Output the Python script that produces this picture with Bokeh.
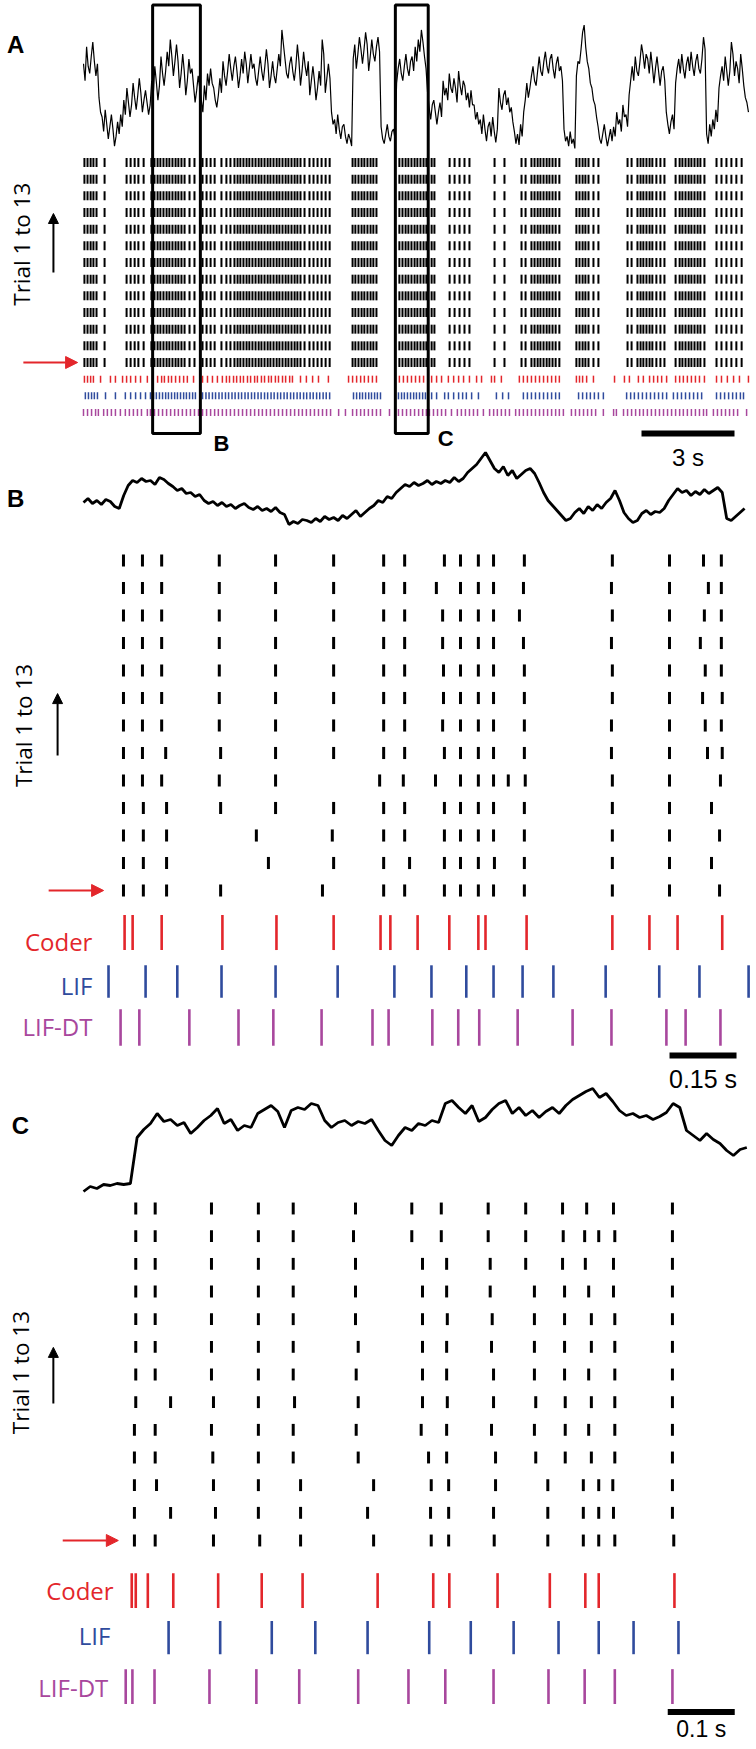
import math
from bokeh.plotting import figure
from bokeh.models import Range1d, Arrow, NormalHead
from bokeh.core.properties import value
from bokeh.embed import file_html
from bokeh.resources import INLINE

# ---------------- DATA ----------------
# Panel A: noisy stimulus trace sampled every 0.05 s (arbitrary units)
a_trace_dt = 0.05
a_trace = [70, 56, 84, 68, 62, 76, 88, 72, 60, 70,
           42, 30,
           26, 14, 32, 20, 8, 18, 28, 16, 2, 10, 22, 12,
           28, 18,
           40, 28, 50, 38, 26, 36, 54, 42, 32, 44, 58, 46, 30, 40, 48, 38, 28, 36,
           56, 44, 68, 55, 40, 52, 76, 62, 52, 64, 80, 68, 90, 76, 60, 72, 86, 72, 50, 62,
           78, 64, 44, 56, 74, 62, 66, 52, 38, 48, 60, 50,
           40, 30, 52, 40, 62, 52,
           66, 54, 50, 40, 34, 44, 58, 46, 72, 60, 52, 64, 78, 66, 56, 68, 76, 64, 50, 60,
           74, 62, 80, 70, 54, 66, 78, 66, 70, 58, 52, 64, 76, 64, 56, 68, 82, 70, 50, 60,
           72, 60, 54, 66, 78, 68, 98, 86, 74, 62, 58, 70, 76, 64, 56, 68, 86, 72, 52, 64,
           80, 68, 60, 72, 44, 56, 68, 56, 40, 50, 64, 52, 90, 78, 46, 58, 70, 58,
           30, 20, 24, 12, 28, 16, 8, 18, 20, 10, 4, 12, 8, 2,
           74, 86, 66, 78, 92, 82, 70, 82, 96, 86, 64, 76, 90, 78, 72, 84, 92, 80,
           18, 8, 4, 12, 20, 10, 6, 14, 16, 8,
           54, 66, 74, 62, 56, 68, 78, 66, 60, 72, 76, 64, 84, 72, 90, 80, 98, 88, 76, 66,
           46, 34, 24, 36, 40, 30, 20, 30, 38, 26,
           56, 44, 50, 40, 62, 50, 46, 58, 50, 38, 64, 52, 44, 56, 52, 40, 46, 34, 48, 36,
           36, 24, 30, 20, 24, 12, 28, 16, 6, 18, 22, 10, 26, 14, 5, 16,
           50, 38, 32, 44, 48, 36, 42, 30, 34, 22,
           14, 4, 12, 3, 20, 10,
           30, 40, 54, 42, 50, 60, 68, 56, 52, 64, 76, 64, 60, 72, 80, 68, 62, 74, 78, 66,
           58, 70, 76, 64, 68, 56,
           16, 6, 10, 2, 14, 4, 8, 0,
           60, 72, 70, 82, 96, 102, 84, 72, 66, 54, 50, 40, 36, 26,
           18, 8, 4, 12, 20, 10, 2, 9, 16, 6, 18, 10,
           30, 20, 24, 14, 36, 26, 28, 18,
           44, 56, 68, 56, 76, 64, 60, 72, 86, 78, 66, 78, 74, 62, 80, 68, 54, 66, 76, 64,
           52, 64, 68, 56,
           30, 20, 12, 22, 28, 16,
           54, 66, 74, 62, 78, 66, 58, 70, 76, 64, 80, 68, 60, 72, 78, 66, 62, 74, 92, 82,
           12, 4, 20, 10, 24, 16, 32, 22,
           50, 60, 68, 56, 76, 64, 52, 64, 88, 78, 60, 72, 66, 54, 78, 66, 52, 42, 38, 30]

# Panel A spike times (s): recorded trials (same pattern each trial), Coder, LIF, LIF-DT
a_trial_spikes = [0.03, 0.13, 0.23, 0.32, 0.42, 0.68, 1.39, 1.52, 1.65, 1.77, 1.94,
    2.19, 2.29, 2.39, 2.48, 2.58, 2.68, 2.77, 2.87, 2.97, 3.06, 3.16, 3.26, 3.42, 3.58,
    3.84, 3.97, 4.10, 4.23,
    4.45, 4.61, 4.74, 4.87, 4.97, 5.06, 5.16, 5.26, 5.35, 5.45, 5.55, 5.65, 5.74, 5.84, 5.94, 6.03, 6.13,
    6.23, 6.32, 6.42, 6.52, 6.61, 6.71, 6.81, 6.90, 7.00, 7.13,
    7.29, 7.42, 7.55, 7.68, 7.81, 7.94,
    8.68, 8.77, 8.87, 8.97, 9.06, 9.16, 9.26, 9.35, 9.45,
    10.19, 10.29, 10.39, 10.48, 10.58, 10.68, 10.77, 10.87, 10.97, 11.06,
    11.23, 11.32, 11.81, 11.97, 12.13, 12.29, 12.45, 13.26, 13.58,
    14.13, 14.26, 14.45, 14.55, 14.65, 14.74, 14.84, 14.94, 15.03, 15.13, 15.23, 15.35,
    15.90, 16.00, 16.10, 16.19, 16.29, 16.45, 16.61,
    17.55, 17.68, 17.87, 17.97, 18.06, 18.16, 18.26, 18.35, 18.48, 18.61, 18.74,
    19.10, 19.23, 19.32, 19.42, 19.52, 19.61, 19.71, 19.81, 19.90, 20.03,
    20.42, 20.58, 20.74, 20.90, 21.06, 21.23]
a_coder = [0.03, 0.13, 0.23, 0.32, 0.55, 0.87, 1.03, 1.26, 1.39, 1.52, 1.68, 1.84, 2.06, 2.23,
    2.39, 2.52, 2.61, 2.74, 2.84, 2.97, 3.10, 3.23, 3.35, 3.55, 3.84, 4.00, 4.16, 4.32,
    4.48, 4.61, 4.71, 4.84, 4.94, 5.06, 5.16, 5.29, 5.39, 5.52, 5.61, 5.74, 5.84, 5.97,
    6.06, 6.19, 6.29, 6.42, 6.52, 6.65, 6.74, 7.00, 7.19, 7.39, 7.58, 7.90,
    8.55, 8.68, 8.81, 8.94, 9.06, 9.19, 9.32, 9.45,
    10.19, 10.32, 10.45, 10.58, 10.71, 10.84, 10.97,
    11.23, 11.39, 11.55, 11.77, 11.94, 12.10, 12.26, 12.45, 12.68, 12.84, 13.16, 13.26, 13.48,
    14.06, 14.19, 14.32, 14.45, 14.58, 14.71, 14.84, 14.97, 15.10, 15.23, 15.35,
    15.90, 16.00, 16.10, 16.23, 16.45, 17.13,
    17.45, 17.61, 17.90, 18.06, 18.26, 18.39, 18.52, 18.65, 18.81,
    19.10, 19.23, 19.35, 19.48, 19.61, 19.74, 19.87, 20.03,
    20.42, 20.58, 20.77, 20.97, 21.16, 21.45]
a_lif = [0.06, 0.16, 0.26, 0.35, 0.45, 0.71, 1.03, 1.35, 1.52, 1.68, 1.84, 2.00,
    2.16, 2.26, 2.35, 2.45, 2.55, 2.65, 2.74, 2.84, 2.94, 3.03, 3.13, 3.23, 3.32, 3.42, 3.52, 3.61,
    3.84, 3.95, 4.05, 4.16, 4.26, 4.37, 4.47, 4.58, 4.68, 4.79, 4.89, 5.00, 5.10, 5.21, 5.31,
    5.42, 5.52, 5.63, 5.73, 5.84, 5.94, 6.05, 6.15, 6.26, 6.36, 6.47, 6.57, 6.68, 6.78, 6.89,
    6.99, 7.10, 7.20, 7.31, 7.41, 7.52, 7.62, 7.73, 7.83, 7.94,
    8.71, 8.81, 8.91, 9.00, 9.10, 9.20, 9.29, 9.39, 9.48, 9.58,
    10.16, 10.26, 10.35, 10.45, 10.55, 10.65, 10.74, 10.84, 10.94, 11.03,
    11.23, 11.39, 11.65, 11.77, 11.94, 12.10, 12.23, 12.35, 12.52, 12.74,
    13.32, 13.52, 13.71,
    14.19, 14.32, 14.45, 14.58, 14.71, 14.84, 14.97, 15.10, 15.23, 15.35,
    15.97, 16.10, 16.23, 16.35, 16.48, 16.61, 16.77,
    17.52, 17.65, 17.77, 17.90, 18.03, 18.16, 18.29, 18.42, 18.55, 18.68, 18.81,
    19.03, 19.16, 19.29, 19.42, 19.55, 19.68, 19.81, 19.94,
    20.42, 20.55, 20.68, 20.81, 20.94, 21.06, 21.19, 21.29]
a_lifdt = [0.00, 0.13, 0.26, 0.39, 0.48, 0.65, 0.77, 0.90, 1.03, 1.19, 1.35, 1.48, 1.61, 1.74, 1.87, 2.06,
    2.16, 2.29, 2.42, 2.55, 2.68, 2.81, 2.94, 3.06, 3.19, 3.32, 3.45, 3.58, 3.71, 3.84, 3.97,
    4.10, 4.23, 4.35, 4.48, 4.61, 4.74, 4.87, 5.00, 5.13, 5.26, 5.39, 5.52, 5.65, 5.77, 5.90,
    6.03, 6.16, 6.29, 6.42, 6.55, 6.68, 6.81, 6.94, 7.06, 7.19, 7.32, 7.45, 7.58, 7.71, 7.84, 7.97,
    8.23, 8.45, 8.68, 8.81, 8.94, 9.06, 9.19, 9.32, 9.45, 9.58, 9.87,
    10.16, 10.29, 10.42, 10.55, 10.68, 10.81, 10.94, 11.06,
    11.16, 11.29, 11.42, 11.55, 11.68, 11.87, 12.06, 12.19, 12.32, 12.45, 12.58, 12.71, 12.90,
    13.10, 13.23, 13.35, 13.48, 13.61, 13.74, 13.94, 14.06, 14.19, 14.32, 14.45, 14.58, 14.71,
    14.84, 14.97, 15.10, 15.23, 15.35, 15.48,
    15.74, 15.87, 16.00, 16.13, 16.26, 16.39, 16.52, 16.77, 17.10, 17.19,
    17.42, 17.55, 17.68, 17.81, 17.94, 18.06, 18.19, 18.32, 18.45, 18.58, 18.71, 18.84, 18.97,
    19.10, 19.23, 19.35, 19.48, 19.61, 19.74, 19.87, 20.00, 20.10,
    20.32, 20.45, 20.58, 20.71, 20.84, 20.97, 21.10, 21.39]

# Zoom windows (s) shown as boxes in panel A
b_window = [2.23, 3.77]
c_window = [10.06, 11.12]

# Panel B: trace sampled every 0.01 s
b_trace_dt = 0.01
b_trace = [28, 32, 27, 30, 26, 31, 29, 24, 22, 35, 45, 50,
           48, 52, 49, 50, 46, 53, 51, 47, 44, 40, 42, 37, 38, 34, 36,
           30, 27, 29, 25, 28, 24, 26, 22, 25, 27, 23, 21, 24, 20, 22, 19, 23, 18, 16,
           6, 9, 7, 11, 10, 8, 12, 9, 14, 11, 13, 10, 15, 12, 16, 20, 14,
           18, 22, 25, 30, 28, 34, 32, 38,
           42, 46, 44, 48, 45, 47, 50, 46, 49, 47, 50, 48, 53, 49,
           52, 58, 62, 66, 72, 78, 70, 62, 58, 64, 55, 60, 52, 56, 60, 62, 57,
           48, 38, 30, 25, 20, 15, 10, 12,
           18, 22, 17, 24, 20, 26, 22, 28, 32, 40, 30, 18, 12, 8, 10,
           17, 20, 16, 19, 18, 22, 30, 36, 42, 38, 40, 35, 39, 36, 41, 37, 40, 43, 38,
           12, 10, 14, 18, 22]
# Panel B spikes (s): 13 trials listed from top row to bottom row
b_trials = [
    [0.0895, 0.132, 0.175, 0.304, 0.430, 0.560, 0.672, 0.719, 0.808, 0.844, 0.884, 0.918, 0.987, 1.184, 1.312, 1.388, 1.428],
    [0.0895, 0.132, 0.175, 0.304, 0.430, 0.560, 0.672, 0.719, 0.790, 0.844, 0.884, 0.918, 0.985, 1.182, 1.312, 1.399, 1.428],
    [0.0895, 0.132, 0.175, 0.304, 0.430, 0.560, 0.672, 0.719, 0.804, 0.844, 0.884, 0.918, 0.976, 1.184, 1.312, 1.390, 1.428],
    [0.0895, 0.132, 0.175, 0.304, 0.430, 0.560, 0.672, 0.719, 0.804, 0.844, 0.884, 0.918, 0.985, 1.182, 1.312, 1.381, 1.428],
    [0.0895, 0.132, 0.175, 0.304, 0.430, 0.560, 0.672, 0.719, 0.806, 0.844, 0.884, 0.918, 0.987, 1.184, 1.312, 1.392, 1.428],
    [0.0895, 0.132, 0.175, 0.304, 0.430, 0.560, 0.672, 0.719, 0.806, 0.844, 0.884, 0.918, 0.987, 1.184, 1.312, 1.386, 1.430],
    [0.0895, 0.132, 0.175, 0.304, 0.430, 0.560, 0.672, 0.719, 0.804, 0.844, 0.884, 0.918, 0.987, 1.182, 1.312, 1.392, 1.428],
    [0.0895, 0.132, 0.184, 0.307, 0.430, 0.560, 0.672, 0.719, 0.808, 0.844, 0.884, 0.918, 0.987, 1.182, 1.312, 1.397, 1.430],
    [0.0895, 0.132, 0.175, 0.304, 0.430, 0.663, 0.716, 0.788, 0.844, 0.884, 0.918, 0.951, 0.989, 1.184, 1.312, 1.426],
    [0.0895, 0.134, 0.186, 0.307, 0.430, 0.560, 0.672, 0.719, 0.808, 0.844, 0.884, 0.918, 0.987, 1.184, 1.312, 1.406],
    [0.0895, 0.134, 0.186, 0.387, 0.557, 0.672, 0.719, 0.808, 0.844, 0.884, 0.918, 0.987, 1.184, 1.312, 1.424],
    [0.0895, 0.134, 0.186, 0.414, 0.560, 0.672, 0.730, 0.808, 0.844, 0.884, 0.920, 0.987, 1.184, 1.312, 1.406],
    [0.0895, 0.134, 0.186, 0.307, 0.535, 0.672, 0.719, 0.808, 0.844, 0.884, 0.918, 0.987, 1.184, 1.312, 1.424],
]
b_coder = [0.092, 0.110, 0.175, 0.311, 0.432, 0.560, 0.665, 0.687, 0.748, 0.819, 0.884, 0.900, 0.992, 1.184, 1.267, 1.330, 1.430]
b_lif = [0.056, 0.139, 0.210, 0.309, 0.430, 0.569, 0.696, 0.779, 0.857, 0.918, 0.983, 1.052, 1.169, 1.289, 1.379, 1.489]
b_lifdt = [0.083, 0.125, 0.237, 0.347, 0.425, 0.533, 0.647, 0.683, 0.781, 0.839, 0.886, 0.972, 1.095, 1.182, 1.305, 1.348, 1.426]

# Panel C: trace sampled every 0.01 s
c_trace_dt = 0.01
c_trace = [4, 9, 7, 11, 10, 12, 11, 12, 58, 66, 72,
           82, 74, 76, 70, 73, 62, 68, 75, 80, 87,
           72, 76, 65, 70, 68, 82, 86, 90, 84, 68,
           85, 88, 86, 92, 90, 75, 68, 73, 75, 70, 74, 72, 76,
           65, 55, 50, 60, 68, 65, 72, 70, 75, 73,
           92, 95, 88, 82, 90, 74, 78, 86, 92, 95,
           82, 88, 80, 85, 78, 84, 88, 82, 90,
           96, 100, 104, 107, 98, 102, 94,
           85, 80, 82, 78, 80, 76, 79, 83, 92, 88,
           65, 60, 55, 62, 56, 52, 45, 40, 46, 48]
c_trials = [
    [0.078, 0.107, 0.191, 0.261, 0.313, 0.406, 0.490, 0.534, 0.604, 0.660, 0.715, 0.751, 0.791, 0.879],
    [0.078, 0.107, 0.191, 0.261, 0.313, 0.403, 0.490, 0.534, 0.604, 0.660, 0.716, 0.748, 0.769, 0.793, 0.879],
    [0.078, 0.107, 0.191, 0.261, 0.313, 0.406, 0.506, 0.542, 0.607, 0.660, 0.715, 0.749, 0.791, 0.879],
    [0.078, 0.107, 0.191, 0.261, 0.313, 0.406, 0.506, 0.542, 0.607, 0.673, 0.718, 0.754, 0.791, 0.879],
    [0.078, 0.107, 0.191, 0.261, 0.313, 0.406, 0.506, 0.543, 0.610, 0.673, 0.718, 0.758, 0.793, 0.879],
    [0.078, 0.107, 0.191, 0.261, 0.313, 0.410, 0.506, 0.542, 0.609, 0.673, 0.718, 0.758, 0.793, 0.879],
    [0.078, 0.107, 0.191, 0.261, 0.313, 0.407, 0.506, 0.542, 0.612, 0.673, 0.718, 0.754, 0.793, 0.879],
    [0.078, 0.130, 0.194, 0.261, 0.315, 0.410, 0.506, 0.543, 0.612, 0.675, 0.719, 0.758, 0.793, 0.879],
    [0.076, 0.107, 0.191, 0.261, 0.313, 0.407, 0.504, 0.542, 0.609, 0.673, 0.719, 0.754, 0.793, 0.879],
    [0.076, 0.107, 0.193, 0.261, 0.313, 0.410, 0.515, 0.542, 0.615, 0.675, 0.719, 0.758, 0.793, 0.879],
    [0.076, 0.109, 0.194, 0.261, 0.324, 0.433, 0.519, 0.545, 0.615, 0.693, 0.746, 0.769, 0.790, 0.879],
    [0.076, 0.130, 0.197, 0.261, 0.324, 0.424, 0.518, 0.545, 0.612, 0.693, 0.746, 0.769, 0.791, 0.879],
    [0.076, 0.107, 0.194, 0.263, 0.324, 0.433, 0.519, 0.545, 0.613, 0.693, 0.746, 0.769, 0.793, 0.881],
]
c_coder = [0.072, 0.078, 0.096, 0.134, 0.201, 0.266, 0.327, 0.439, 0.522, 0.546, 0.618, 0.696, 0.749, 0.769, 0.882]
c_lif = [0.127, 0.204, 0.281, 0.346, 0.424, 0.516, 0.578, 0.642, 0.709, 0.769, 0.821, 0.888]
c_lifdt = [0.063, 0.073, 0.106, 0.188, 0.258, 0.322, 0.410, 0.485, 0.540, 0.612, 0.694, 0.748, 0.793, 0.879]

model_names = ["Coder", "LIF", "LIF-DT"]
scale_bars = {"A": 3.0, "B": 0.15, "C": 0.1}
scale_labels = {"A": "3 s", "B": "0.15 s", "C": "0.1 s"}

# ---------------- LAYOUT ----------------
RED, BLUE, MAG = "#e3262b", "#2f4b9d", "#a8479d"
W, H = 752, 1746
L_PX, R_PX, T_PX, B_PX = 0, W, 0, H


def xr(d1, p1, d2, p2):
    s = (d2 - d1) / (p2 - p1)
    return Range1d(start=d1 + (L_PX - p1) * s, end=d1 + (R_PX - p1) * s)


def yr(d1, p1, d2, p2):
    s = (d2 - d1) / (p2 - p1)
    return Range1d(start=d1 + (B_PX - p1) * s, end=d1 + (T_PX - p1) * s)


p = figure(width=W, height=H, title=None, x_axis_type=None, y_axis_type=None,
           toolbar_location=None, output_backend="svg", min_border=0,
           x_range=xr(0, 83, 3, 176), y_range=yr(0, 412, 15, 162))
p.extra_x_ranges = {"bx": xr(0, 83, 0.15, 150), "cx": xr(0, 83, 0.1, 150)}
p.extra_y_ranges = {"atr": yr(0, 148, 100, 27),
                    "by": yr(0, 890, 12, 560), "btr": yr(0, 530, 100, 430),
                    "cy": yr(0, 1540, 12, 1208), "ctr": yr(0, 1195, 100, 1095)}
p.outline_line_color = None
p.background_fill_color = "white"
p.border_fill_color = "white"

SANS = "Liberation Sans"
MYR = "Open Sans"


def raster(rows, ys, h, color, lw, xn, yn):
    x0, y0, y1 = [], [], []
    for times, yy in zip(rows, ys):
        for t in times:
            x0.append(t)
            y0.append(yy - h / 2)
            y1.append(yy + h / 2)
    p.segment(x0=x0, y0=y0, x1=x0, y1=y1, line_color=color, line_width=lw,
              line_cap="butt", x_range_name=xn, y_range_name=yn)


def txt(x, y, s, xn, yn, size, color="black", align="center", font=MYR,
        style="normal", angle=0.0):
    p.text(x=[x], y=[y], text=[s], x_range_name=xn, y_range_name=yn,
           text_font=value(font), text_font_size=f"{size}px", text_font_style=style,
           text_color=color, text_align=align, text_baseline="middle", angle=angle)


def arrow(x0, y0, x1, y1, xn, yn, color, size):
    p.add_layout(Arrow(end=NormalHead(size=size, fill_color=color, line_color=color),
                       x_start=x0, y_start=y0, x_end=x1, y_end=y1, line_color=color,
                       line_width=2, x_range_name=xn, y_range_name=yn))


# ---- Panel A ----
a_t = [i * a_trace_dt for i in range(len(a_trace))]
p.line(a_t, a_trace, line_color="black", line_width=1.2, y_range_name="atr")
raster([a_trial_spikes] * 13, [3 + k for k in range(13)], 0.54, "black", 2, "default", "default")
raster([a_coder], [2], 0.42, RED, 1.5, "default", "default")
raster([a_lif], [1], 0.42, BLUE, 1.5, "default", "default")
raster([a_lifdt], [0], 0.42, MAG, 1.5, "default", "default")
p.quad(left=[b_window[0], c_window[0]], right=[b_window[1], c_window[1]],
       bottom=[-1.26, -1.26], top=[24.45, 24.45], fill_color=None,
       line_color="black", line_width=3)
txt(b_window[1] + 0.68, -1.85, "B", "default", "default", 22, font=SANS, style="bold")
txt(c_window[1] + 0.56, -1.55, "C", "default", "default", 22, font=SANS, style="bold")
txt(-2.19, 22.1, "A", "default", "default", 24, font=SANS, style="bold")
txt(-2.0, 10.1, "Trial 1 to 13", "default", "default", 22.5, angle=math.pi / 2)
arrow(-0.97, 8.4, -0.97, 11.94, "default", "default", "black", 10)
arrow(-1.94, 3, -0.19, 3, "default", "default", RED, 12)
p.segment(x0=[21.0 - scale_bars["A"]], x1=[21.0], y0=[-1.26], y1=[-1.26],
          line_color="black", line_width=6, line_cap="butt")
txt(21.0 - scale_bars["A"] / 2, -2.7, scale_labels["A"], "default", "default", 24, font=SANS)

# ---- Panel B ----
b_t = [i * b_trace_dt for i in range(len(b_trace))]
p.line(b_t, b_trace, line_color="black", line_width=2.8, x_range_name="bx", y_range_name="btr")
raster(b_trials, [12 - r for r in range(13)], 0.44, "black", 3, "bx", "by")
b_rows = [-1.53, -3.31, -4.98]
raster([b_coder], [b_rows[0]], 1.27, RED, 2.6, "bx", "by")
raster([b_lif], [b_rows[1]], 1.18, BLUE, 2.6, "bx", "by")
raster([b_lifdt], [b_rows[2]], 1.33, MAG, 2.6, "bx", "by")
for name, yy, col in zip(model_names, [-1.85, -3.45, -4.95], [RED, BLUE, MAG]):
    txt(0.020, yy, name, "bx", "by", 24, color=col, align="right")
txt(-0.152, 14.25, "B", "bx", "by", 24, font=SANS, style="bold")
txt(-0.134, 6.0, "Trial 1 to 13", "bx", "by", 22.5, angle=math.pi / 2)
arrow(-0.058, 4.91, -0.058, 7.16, "bx", "by", "black", 10)
arrow(-0.078, 0, 0.045, 0, "bx", "by", RED, 12)
p.segment(x0=[1.312], x1=[1.312 + scale_bars["B"]], y0=[-6.0], y1=[-6.0],
          line_color="black", line_width=6, line_cap="butt", x_range_name="bx", y_range_name="by")
txt(1.312 + scale_bars["B"] / 2, -6.84, scale_labels["B"], "bx", "by", 25, font=SANS)

# ---- Panel C ----
c_t = [i * c_trace_dt for i in range(len(c_trace))]
p.line(c_t, c_trace, line_color="black", line_width=2.8, x_range_name="cx", y_range_name="ctr")
raster(c_trials, [12 - r for r in range(13)], 0.43, "black", 3, "cx", "cy")
c_rows = [-1.81, -3.51, -5.28]
raster([c_coder], [c_rows[0]], 1.26, RED, 2.6, "cx", "cy")
raster([c_lif], [c_rows[1]], 1.2, BLUE, 2.6, "cx", "cy")
raster([c_lifdt], [c_rows[2]], 1.26, MAG, 2.6, "cx", "cy")
for name, xx, yy, col in zip(model_names, [0.045, 0.040, 0.037], [-1.81, -3.43, -5.31], [RED, BLUE, MAG]):
    txt(xx, yy, name, "cx", "cy", 24, color=col, align="right")
txt(-0.094, 15.0, "C", "cx", "cy", 24, font=SANS, style="bold")
txt(-0.094, 6.07, "Trial 1 to 13", "cx", "cy", 22.5, angle=math.pi / 2)
arrow(-0.045, 4.95, -0.045, 6.98, "cx", "cy", "black", 10)
arrow(-0.031, 0, 0.052, 0, "cx", "cy", RED, 12)
p.segment(x0=[0.872], x1=[0.872 + scale_bars["C"]], y0=[-6.2], y1=[-6.2],
          line_color="black", line_width=6, line_cap="butt", x_range_name="cx", y_range_name="cy")
txt(0.872 + scale_bars["C"] / 2, -6.8, scale_labels["C"], "cx", "cy", 23, font=SANS)

open("out.html", "w").write(file_html(p, INLINE))
